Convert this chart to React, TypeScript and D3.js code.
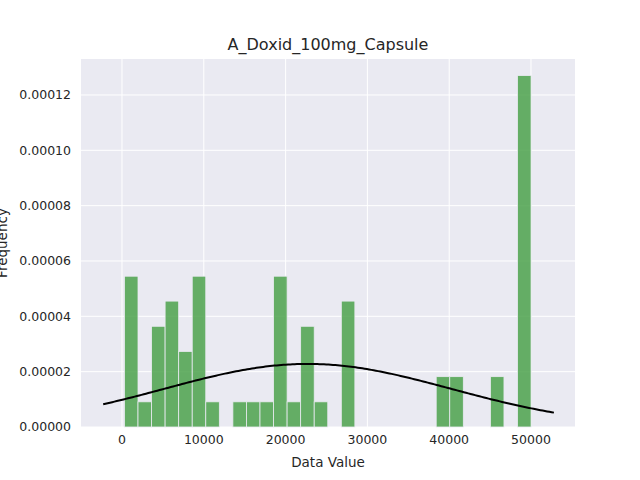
import React from 'react';
import * as d3 from 'd3';

// histogram bins: start of first bin, bin width, density per bin
const binStart = 300;
const binWidth = 1657;
const densities = [
  0.0000545, 0.0000091, 0.0000364, 0.0000455, 0.0000273, 0.0000545, 0.0000091, 0,
  0.0000091, 0.0000091, 0.0000091, 0.0000545, 0.0000091, 0.0000364, 0.0000091, 0,
  0.0000455, 0, 0, 0, 0, 0, 0, 0.0000182, 0.0000182, 0, 0, 0.0000182, 0, 0.000127,
];
// fitted normal curve
const fitMean = 22700;
const fitStd = 17500;
const curveFrom = -2300;
const curveTo = 52800;
const xTicks = [0, 10000, 20000, 30000, 40000, 50000];
const yTicks = [0, 0.00002, 0.00004, 0.00006, 0.00008, 0.0001, 0.00012];

const W = 640;
const H = 480;
const m = { left: 81, right: 575, top: 59, bottom: 427 };

export default function App() {
  const x = d3.scaleLinear().domain([-5012, 55380]).range([m.left, m.right]);
  const y = d3.scaleLinear().domain([0, 0.000133]).range([m.bottom, m.top]);

  const curve = d3.range(0, 201).map((i) => {
    const v = curveFrom + ((curveTo - curveFrom) * i) / 200;
    const p = Math.exp(-0.5 * ((v - fitMean) / fitStd) ** 2) / (fitStd * Math.sqrt(2 * Math.PI));
    return [v, p] as [number, number];
  });
  const line = d3.line<[number, number]>().x((d) => x(d[0])).y((d) => y(d[1]));

  const font = 'DejaVu Sans, sans-serif';

  return (
    <svg width={W} height={H} style={{ position: 'absolute', left: 0, top: 0, background: '#fff' }} fontFamily={font}>
      <rect x={m.left} y={m.top} width={m.right - m.left} height={m.bottom - m.top} fill="#eaeaf2" />
      {xTicks.map((t) => (
        <line key={'gx' + t} x1={x(t)} x2={x(t)} y1={m.top} y2={m.bottom} stroke="#fff" strokeWidth={1} />
      ))}
      {yTicks.map((t) => (
        <line key={'gy' + t} x1={m.left} x2={m.right} y1={y(t)} y2={y(t)} stroke="#fff" strokeWidth={1} />
      ))}
      {densities.map((d, i) => {
        const x0 = binStart + i * binWidth;
        return d > 0 ? (
          <rect
            key={i}
            x={x(x0)}
            y={y(d)}
            width={x(x0 + binWidth) - x(x0)}
            height={y(0) - y(d)}
            fill="#4ca24c"
            fillOpacity={0.85}
            stroke="#eaeaf2"
            strokeWidth={0.8}
          />
        ) : null;
      })}
      <path d={line(curve) || ''} fill="none" stroke="#000" strokeWidth={2} />
      {xTicks.map((t) => (
        <text key={'tx' + t} x={x(t)} y={m.bottom + 17} textAnchor="middle" fontSize={12.5} fill="#262626">
          {t}
        </text>
      ))}
      {yTicks.map((t) => (
        <text key={'ty' + t} x={m.left - 10} y={y(t)} dy="0.35em" textAnchor="end" fontSize={12.5} fill="#262626">
          {t.toFixed(5)}
        </text>
      ))}
      <text x={(m.left + m.right) / 2} y={50} textAnchor="middle" fontSize={16} fill="#262626">
        A_Doxid_100mg_Capsule
      </text>
      <text x={(m.left + m.right) / 2} y={467} textAnchor="middle" fontSize={13.5} fill="#262626">
        Data Value
      </text>
      <text
        transform={`translate(7, ${(m.top + m.bottom) / 2}) rotate(-90)`}
        textAnchor="middle"
        fontSize={13.5}
        fill="#262626"
      >
        Frequency
      </text>
    </svg>
  );
}
